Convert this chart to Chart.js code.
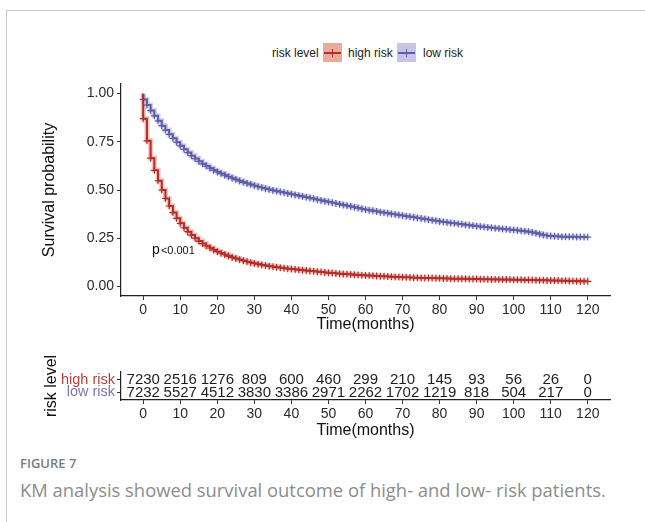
<!DOCTYPE html>
<html>
<head>
<meta charset="utf-8">
<script src="https://cdn.jsdelivr.net/npm/chart.js"></script>
<style>
  body { margin: 0; background: #fff; width: 645px; height: 522px; overflow: hidden; position: relative; font-family: "Liberation Sans", Arial, sans-serif; }
  #frame { position: absolute; left: 6px; top: 10px; right: 0; bottom: 0; border-left: 1px solid #c8c8c8; border-top: 1px solid #c8c8c8; }
  canvas { position: absolute; left: 0; }
  #kmChart { top: 0; }
  #riskChart { top: 345px; }
  .lg { position: absolute; font-size: 12px; color: #222; line-height: 20px; top: 43px; }
  .key { position: absolute; top: 43px; width: 19px; height: 19px; }
  .key i { position: absolute; left: 1px; right: 1px; top: 9px; height: 2px; }
  .key b { position: absolute; left: 9px; top: 6px; width: 1.3px; height: 8px; }
  #fig { position: absolute; left: 20px; top: 454px; font-family: "Open Sans", sans-serif; font-size: 13px; color: #7b7b7b; font-weight: 600; }
  #cap { position: absolute; left: 20px; top: 477px; font-family: "Open Sans", sans-serif; font-size: 18.4px; color: #8c8c8c; font-weight: 400; }
</style>
</head>
<body>
<div id="frame"></div>
<span class="lg" style="left:272px">risk level</span>
<span class="key" style="left:323px;background:#e9ab9c"><i style="background:#b42d2b"></i><b style="background:#b42d2b"></b></span>
<span class="lg" style="left:348px">high risk</span>
<span class="key" style="left:397px;background:#c9c4e5"><i style="background:#5d5fa8"></i><b style="background:#5d5fa8"></b></span>
<span class="lg" style="left:423px">low risk</span>
<canvas id="kmChart" width="645" height="345"></canvas>
<canvas id="riskChart" width="645" height="100"></canvas>
<div id="fig">FIGURE 7</div>
<div id="cap">KM analysis showed survival outcome of high- and low- risk patients.</div>
<script>
// time points (months); first 0 is the start at 1.0
const months = [0, 0, 1, 2, 3, 4, 5, 6, 7, 8, 9, 10, 11, 12, 13, 14, 15, 16, 17, 18, 19,
  20, 21, 22, 23, 24, 25, 26, 27, 28, 29, 30, 31, 32, 33, 34, 35, 36, 37, 38, 39,
  40, 41, 42, 43, 44, 45, 46, 47, 48, 49, 50, 51, 52, 53, 54, 55, 56, 57, 58, 59,
  60, 61, 62, 63, 64, 65, 66, 67, 68, 69, 70, 71, 72, 73, 74, 75, 76, 77, 78, 79,
  80, 81, 82, 83, 84, 85, 86, 87, 88, 89, 90, 91, 92, 93, 94, 95, 96, 97, 98, 99,
  100, 101, 102, 103, 104, 105, 106, 107, 108, 109, 110, 111, 112, 113, 114, 115, 116, 117, 118, 119, 120];

const highRisk = [1.0, 0.870, 0.755, 0.665, 0.602, 0.548, 0.500, 0.456, 0.417, 0.383, 0.353,
  0.327, 0.304, 0.284, 0.266, 0.250, 0.235, 0.222, 0.210, 0.199, 0.189,
  0.180, 0.172, 0.164, 0.157, 0.150, 0.144, 0.138, 0.133, 0.128, 0.123,
  0.119, 0.115, 0.111, 0.108, 0.105, 0.102, 0.099, 0.097, 0.094, 0.092,
  0.090, 0.088, 0.086, 0.084, 0.082, 0.080, 0.078, 0.076, 0.074, 0.072,
  0.070, 0.069, 0.067, 0.066, 0.064, 0.063, 0.062, 0.060, 0.059, 0.058,
  0.057, 0.056, 0.055, 0.054, 0.053, 0.052, 0.051, 0.050, 0.049, 0.048,
  0.047, 0.047, 0.046, 0.045, 0.045, 0.044, 0.044, 0.043, 0.043, 0.042,
  0.042, 0.041, 0.041, 0.040, 0.040, 0.040, 0.039, 0.039, 0.038, 0.038,
  0.038, 0.037, 0.037, 0.037, 0.036, 0.036, 0.036, 0.035, 0.035, 0.035,
  0.034, 0.034, 0.034, 0.033, 0.033, 0.033, 0.032, 0.032, 0.032, 0.031,
  0.031, 0.030, 0.030, 0.029, 0.029, 0.028, 0.028, 0.027, 0.027, 0.026, 0.026];

const lowRisk = [1.0, 0.970, 0.941, 0.912, 0.885, 0.859, 0.834, 0.811, 0.789, 0.768, 0.748,
  0.729, 0.711, 0.694, 0.678, 0.663, 0.649, 0.636, 0.624, 0.613, 0.603,
  0.594, 0.585, 0.577, 0.569, 0.561, 0.554, 0.547, 0.540, 0.534, 0.528,
  0.522, 0.517, 0.512, 0.507, 0.502, 0.498, 0.494, 0.490, 0.486, 0.482,
  0.478, 0.474, 0.470, 0.466, 0.462, 0.458, 0.454, 0.450, 0.446, 0.442,
  0.438, 0.434, 0.430, 0.426, 0.422, 0.418, 0.414, 0.410, 0.406, 0.402,
  0.398, 0.395, 0.392, 0.389, 0.385, 0.382, 0.379, 0.376, 0.373, 0.370,
  0.367, 0.364, 0.361, 0.358, 0.355, 0.352, 0.349, 0.346, 0.343, 0.340,
  0.337, 0.334, 0.332, 0.329, 0.327, 0.324, 0.322, 0.319, 0.317, 0.314,
  0.312, 0.310, 0.308, 0.306, 0.304, 0.302, 0.300, 0.298, 0.296, 0.294,
  0.292, 0.290, 0.288, 0.286, 0.283, 0.280, 0.276, 0.271, 0.266, 0.263,
  0.261, 0.260, 0.259, 0.258, 0.258, 0.257, 0.257, 0.256, 0.256, 0.256, 0.256];

const xTicks = [0, 10, 20, 30, 40, 50, 60, 70, 80, 90, 100, 110, 120];
const yTicks = [0, 0.25, 0.5, 0.75, 1.0];

// numbers at risk
const riskTimes = [0, 10, 20, 30, 40, 50, 60, 70, 80, 90, 100, 110, 120];
const atRiskHigh = [7230, 2516, 1276, 809, 600, 460, 299, 210, 145, 93, 56, 26, 0];
const atRiskLow = [7232, 5527, 4512, 3830, 3386, 2971, 2262, 1702, 1219, 818, 504, 217, 0];

const RED = "#b42d2b", BLUE = "#5d5fa8";
const RED_LIGHT = "rgba(233,171,156,0.7)", BLUE_LIGHT = "rgba(201,196,229,0.8)";
const FONT = "'Liberation Sans', Arial, sans-serif";
Chart.defaults.font.family = FONT;

const toXY = (ys) => months.map((t, i) => ({ x: t, y: ys[i] }));

function axisX(height, titlePad) {
  return {
    type: "linear", min: -6, max: 126,
    afterBuildTicks: (s) => { s.ticks = xTicks.map((v) => ({ value: v })); },
    afterFit: (s) => { s.height = height; },
    grid: { drawOnChartArea: false, tickLength: 4, tickColor: "#333" },
    border: { color: "#222", width: 1.2 },
    ticks: { color: "#2a2a2a", font: { size: 14 }, padding: 2, maxRotation: 0 },
    title: { display: true, text: "Time(months)", color: "#111", font: { size: 16 }, padding: { bottom: titlePad } }
  };
}

const censorRadius = (ctx) => (ctx.dataIndex === 0 ? 0 : 3.5);

const pvalue = {
  id: "pvalue",
  afterDatasetsDraw(chart) {
    const { ctx, scales } = chart;
    const x = scales.x.getPixelForValue(2.4);
    const y = scales.y.getPixelForValue(0.19);
    ctx.save();
    ctx.fillStyle = "#111";
    ctx.textBaseline = "middle";
    ctx.font = "14px " + FONT;
    ctx.fillText("p", x, y);
    const w = ctx.measureText("p").width;
    ctx.font = "11px " + FONT;
    ctx.fillText("<0.001", x + w + 1, y + 1);
    ctx.restore();
  }
};

new Chart(document.getElementById("kmChart"), {
  type: "line",
  data: {
    datasets: [
      { data: toXY(highRisk), stepped: true, borderColor: RED, borderWidth: 2, pointStyle: "cross",
        pointRadius: censorRadius, pointBorderColor: RED, pointBorderWidth: 1.2, order: 1 },
      { data: toXY(lowRisk), stepped: true, borderColor: BLUE, borderWidth: 2, pointStyle: "cross",
        pointRadius: censorRadius, pointBorderColor: BLUE, pointBorderWidth: 1.2, order: 1 },
      { data: toXY(highRisk), stepped: true, borderColor: RED_LIGHT, borderWidth: 5, pointRadius: 0, order: 2 },
      { data: toXY(lowRisk), stepped: true, borderColor: BLUE_LIGHT, borderWidth: 5, pointRadius: 0, order: 2 }
    ]
  },
  options: {
    responsive: false,
    animation: false,
    layout: { padding: { top: 84, right: 35, left: 0, bottom: 0 } },
    plugins: { legend: { display: false }, tooltip: { enabled: false } },
    scales: {
      x: axisX(49, 11),
      y: {
        type: "linear", min: -0.05, max: 1.05,
        afterBuildTicks: (s) => { s.ticks = yTicks.map((v) => ({ value: v })); },
        afterFit: (s) => { s.width = 121; },
        grid: { drawOnChartArea: false, tickLength: 4, tickColor: "#333" },
        border: { color: "#222", width: 1.2 },
        ticks: { color: "#2a2a2a", font: { size: 14 }, padding: 3, callback: (v) => v.toFixed(2) },
        title: { display: true, text: "Survival probability", color: "#111", font: { size: 16 }, padding: { top: 40 } }
      }
    }
  },
  plugins: [pvalue]
});

const riskNumbers = {
  id: "riskNumbers",
  afterDatasetsDraw(chart) {
    const { ctx, scales } = chart;
    ctx.save();
    ctx.fillStyle = "#1e1e1e";
    ctx.font = "15px " + FONT;
    ctx.textAlign = "center";
    ctx.textBaseline = "middle";
    riskTimes.forEach((t, i) => {
      const x = scales.x.getPixelForValue(t);
      ctx.fillText(String(atRiskHigh[i]), x, scales.y.getPixelForValue(2) + 0.5);
      ctx.fillText(String(atRiskLow[i]), x, scales.y.getPixelForValue(1) + 0.5);
    });
    ctx.restore();
  }
};

new Chart(document.getElementById("riskChart"), {
  type: "scatter",
  data: {
    datasets: [
      { data: riskTimes.map((t) => ({ x: t, y: 2 })), pointRadius: 0 },
      { data: riskTimes.map((t) => ({ x: t, y: 1 })), pointRadius: 0 }
    ]
  },
  options: {
    responsive: false,
    animation: false,
    layout: { padding: { top: 27, right: 35, left: 0, bottom: 0 } },
    plugins: { legend: { display: false }, tooltip: { enabled: false } },
    scales: {
      x: axisX(45, 5),
      y: {
        type: "linear", min: 0.4, max: 2.6,
        afterBuildTicks: (s) => { s.ticks = [{ value: 1 }, { value: 2 }]; },
        afterFit: (s) => { s.width = 121; },
        grid: { drawOnChartArea: false, tickLength: 4, tickColor: "#333" },
        border: { color: "#222", width: 1.2 },
        ticks: {
          font: { size: 14.5 }, padding: 2,
          color: (c) => (c.tick && c.tick.value === 2 ? "#b8403c" : "#7577b8"),
          callback: (v) => (v === 2 ? "high risk" : "low risk")
        },
        title: { display: true, text: "risk level", color: "#111", font: { size: 16 }, padding: { top: 42 } }
      }
    }
  },
  plugins: [riskNumbers]
});
</script>
</body>
</html>
